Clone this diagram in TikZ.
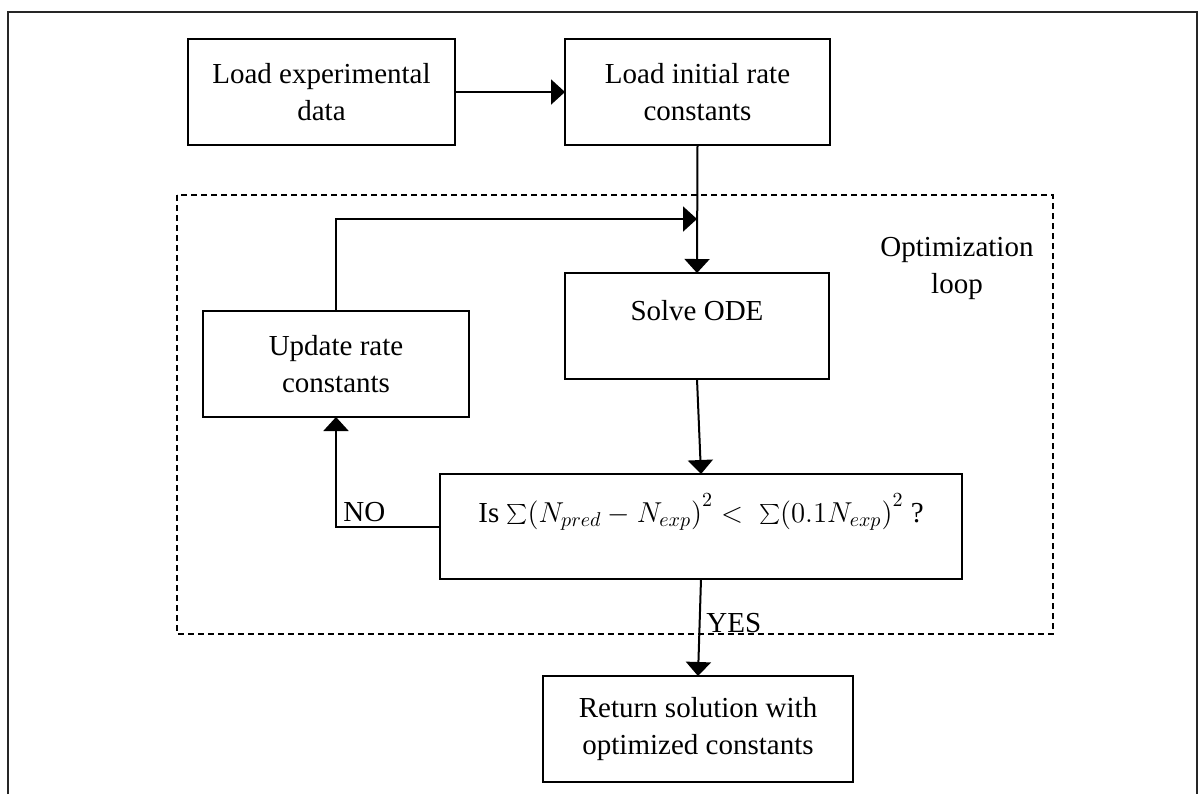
\documentclass[tikz,border=0pt]{standalone}
\usepackage{fontspec}
\setmainfont{Liberation Serif}
\usetikzlibrary{arrows.meta}

\begin{document}
\begin{tikzpicture}[
  x=0.5pt, y=-0.5pt,
  every node/.style={font=\fontsize{14.5pt}{18.5pt}\selectfont},
  stepbox/.style={draw, line width=0.8pt, inner sep=0pt, outer sep=0pt, align=center},
  flow/.style={line width=1pt, -{Triangle[length=7pt,width=12.5pt]}},
  loopframe/.style={line width=0.6pt, dash pattern=on 3pt off 2pt},
  frameline/.style={line width=0.8pt, black!85}
]
\useasboundingbox (0,0) rectangle (1200,794);

% outer frame (open at the bottom)
\draw[frameline] (8,794) -- (8,12) -- (1197,12) -- (1197,794);

% optimization loop region
\draw[loopframe] (177,195) rectangle (1053,634);
\node[align=center] (looplbl) at (957,268) {Optimization\\loop};

% process boxes
\node[stepbox, minimum width=133.5pt, minimum height=53pt] (load) at (321.5,92) {Load experimental\\data};
\node[stepbox, minimum width=132.5pt, minimum height=53pt] (init) at (697.5,92) {Load initial rate\\constants};
\node[stepbox, minimum width=132pt, minimum height=53pt, text height=10pt, text depth=16pt] (solve) at (697,326) {Solve ODE};
\node[stepbox, minimum width=133pt, minimum height=53pt] (upd) at (336,364) {Update rate\\constants};
\node[stepbox, minimum width=261pt, minimum height=52.5pt, text height=12pt, text depth=16.5pt] (cond) at (701,526.5)
  {Is $\sum\Bigl(N_{pred}-N_{exp}\Bigr)^2 <\; \sum\Bigl(0.1N_{exp}\Bigr)^2$ ?};
\node[stepbox, minimum width=155pt, minimum height=53pt] (final) at (698,729) {Return solution with\\optimized constants};

\coordinate (join) at (697,219);

% connectors
\draw[flow] (load.east) -- (init.west);
\draw[flow] (init.south) -- (solve.north);
\draw[flow] (upd.north) |- (join);
\draw[flow] (solve.south) -- (cond.north);
\draw[flow] (cond.west) -| (upd.south);
\draw[flow] (cond.south) -- (final.north);

% branch labels
\node[anchor=base west, inner sep=0pt] (nolbl) at (343,521) {NO};
\node[anchor=base west, inner sep=0pt] (yeslbl) at (706,632) {YES};
\end{tikzpicture}
\end{document}
